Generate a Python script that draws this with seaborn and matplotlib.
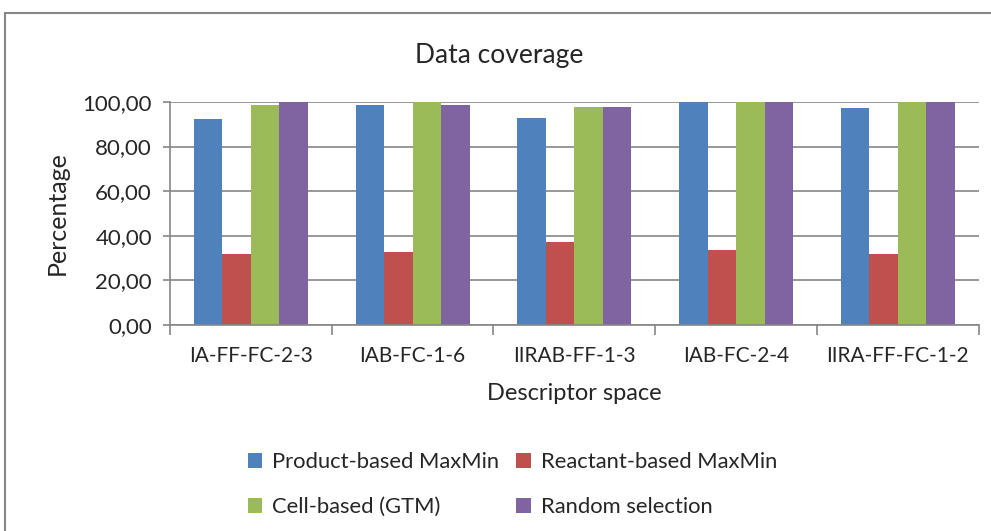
import numpy as np
import pandas as pd
import matplotlib
matplotlib.use("Agg")
from matplotlib import pyplot as plt
from matplotlib.patches import Rectangle
from matplotlib.ticker import FuncFormatter, FixedLocator
import seaborn as sns

# данные
spaces = ['IA-FF-FC-2-3', 'IAB-FC-1-6', 'IIRAB-FF-1-3', 'IAB-FC-2-4', 'IIRA-FF-FC-1-2']
methods = ['Product-based MaxMin', 'Reactant-based MaxMin', 'Cell-based (GTM)', 'Random selection']
product = [92.2, 98.5, 92.7, 100.0, 97.3]
reactant = [31.9, 32.9, 37.1, 33.5, 32.0]
cell = [98.5, 100.0, 97.9, 100.0, 100.0]
random_sel = [100.0, 98.5, 97.9, 100.0, 100.0]
colors = ['#4F81BD', '#C0504D', '#9BBB59', '#8064A2']

df = pd.DataFrame({
    'space': spaces * 4,
    'method': np.repeat(methods, len(spaces)),
    'value': product + reactant + cell + random_sel,
})

sns.set_style('white')
plt.rcParams['font.family'] = ['Lato', 'DejaVu Sans']

fig = plt.figure(figsize=(9.91, 5.31), dpi=100)
ax = fig.add_axes([0.1715, 0.388, 0.816, 0.420])

sns.barplot(data=df, x='space', y='value', hue='method', palette=colors,
            width=0.705, saturation=1, linewidth=0, edgecolor='none', ax=ax, legend=True)

gray = '#868686'
ax.set_ylim(0, 100)
ax.set_xlim(-0.5, len(spaces) - 0.5)
ax.set_yticks(np.arange(0, 101, 20))
ax.yaxis.set_major_formatter(FuncFormatter(lambda v, p: f'{v:.2f}'.replace('.', ',')))
ax.grid(axis='y', color=gray, linewidth=1.2)
ax.set_axisbelow(True)
for s in ['top', 'right']:
    ax.spines[s].set_visible(False)
for s in ['left', 'bottom']:
    ax.spines[s].set_color(gray)
    ax.spines[s].set_linewidth(1.2)

ax.tick_params(axis='y', left=True, length=5, width=1.2, color=gray, labelsize=16, pad=8)
ax.tick_params(axis='x', which='major', bottom=False, labelsize=15, pad=12)
ax.xaxis.set_minor_locator(FixedLocator(np.arange(-0.5, len(spaces), 1)))
ax.tick_params(axis='x', which='minor', bottom=True, length=7, width=1.2, color=gray)

fig.text(499 / 991, 1 - 55 / 531, 'Data coverage', fontsize=19, ha='center', va='center')
ax.set_ylabel('Percentage', fontsize=18, labelpad=10)
ax.set_xlabel('Descriptor space', fontsize=17, labelpad=12)

# легенда: порядок как в оригинале (по строкам)
handles, labels = ax.get_legend_handles_labels()
ax.get_legend().remove()
order = [0, 2, 1, 3]
fig.legend([handles[i] for i in order], [labels[i] for i in order],
           loc='upper center', bbox_to_anchor=(0.517, 0.186),
           ncol=2, frameon=False, fontsize=15.8, handlelength=0.65, handleheight=0.65,
           handletextpad=0.45, columnspacing=0.8, labelspacing=1.15)

# рамка диаграммы
fig.patches.append(Rectangle((5 / 991, -0.05), 1.1, 1.05 - 13 / 531,
                             transform=fig.transFigure, fill=False,
                             edgecolor=gray, linewidth=1.5))

fig.savefig('out.png', dpi=100)
